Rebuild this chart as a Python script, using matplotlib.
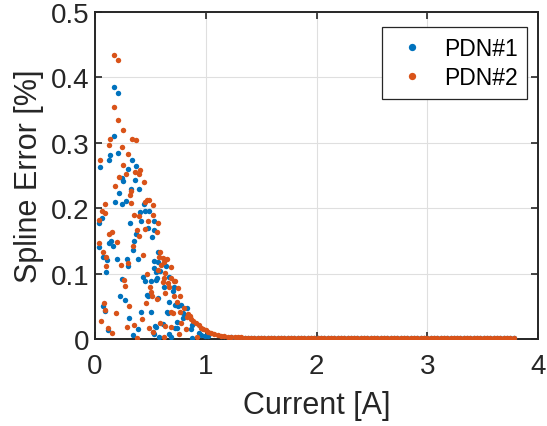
import numpy as np
import matplotlib.pyplot as plt

plt.rcParams['font.family'] = ['Liberation Sans', 'DejaVu Sans']

BLUE = '#0072BD'
ORANGE = '#D95319'
TXT = '#262626'

# PDN#1 scattered points (current [A], spline error [%])
pdn1_current = [
    0.173, 0.212, 0.168, 0.206, 0.137, 0.128, 0.332, 0.371, 0.048, 0.296,
    0.242, 0.257, 0.365, 0.326, 0.400, 0.221, 0.185, 0.281, 0.248, 0.440,
    0.063, 0.033, 0.410, 0.455, 0.490, 0.317, 0.415, 0.535, 0.475, 0.532,
    0.368, 0.514, 0.146, 0.123, 0.159, 0.356, 0.039, 0.341, 0.571, 0.069,
    0.105, 0.200, 0.287, 0.392, 0.302, 0.532, 0.099, 0.547, 0.430, 0.562,
    0.240, 0.450, 0.469, 0.480, 0.227, 0.275, 0.075, 0.093, 0.419, 0.505,
    0.311, 0.388, 0.117, 0.547, 0.347, 0.523, 0.535, 0.571, 0.643, 0.589,
    0.667, 0.508, 0.553, 0.709, 0.625, 0.702, 0.565, 0.664, 0.720, 0.774,
    0.750, 0.828, 0.648, 0.661, 0.792, 0.810, 0.792, 0.541, 0.613, 0.744,
    0.876, 0.864, 0.720, 0.738, 0.935, 0.960, 0.990, 1.020, 0.529, 0.577,
    0.667, 0.684, 0.876,
]
pdn1_error = [
    0.386, 0.376, 0.310, 0.285, 0.281, 0.273, 0.273, 0.265, 0.263, 0.260,
    0.246, 0.241, 0.243, 0.229, 0.229, 0.223, 0.210, 0.211, 0.206, 0.206,
    0.185, 0.178, 0.194, 0.195, 0.195, 0.178, 0.180, 0.180, 0.170, 0.167,
    0.160, 0.156, 0.150, 0.147, 0.142, 0.150, 0.140, 0.136, 0.133, 0.126,
    0.121, 0.122, 0.123, 0.122, 0.111, 0.108, 0.103, 0.102, 0.095, 0.093,
    0.091, 0.089, 0.068, 0.065, 0.065, 0.060, 0.050, 0.043, 0.042, 0.042,
    0.032, 0.016, 0.014, 0.018, 0.006, 0.010, 0.120, 0.117, 0.111, 0.104,
    0.095, 0.089, 0.090, 0.080, 0.079, 0.073, 0.063, 0.057, 0.052, 0.052,
    0.050, 0.047, 0.041, 0.040, 0.039, 0.036, 0.032, 0.020, 0.023, 0.026,
    0.021, 0.016, 0.017, 0.017, 0.009, 0.006, 0.005, 0.004, 0.007, 0.003,
    0.007, 0.003, 0.001,
]

# PDN#2 scattered points
pdn2_current = [
    0.173, 0.212, 0.168, 0.206, 0.251, 0.137, 0.332, 0.371, 0.128, 0.242,
    0.296, 0.048, 0.257, 0.410, 0.365, 0.281, 0.400, 0.221, 0.440, 0.182,
    0.317, 0.323, 0.326, 0.087, 0.455, 0.473, 0.490, 0.526, 0.060, 0.087,
    0.036, 0.356, 0.523, 0.400, 0.480, 0.568, 0.377, 0.448, 0.556, 0.152,
    0.128, 0.395, 0.197, 0.039, 0.347, 0.069, 0.430, 0.099, 0.302, 0.236,
    0.099, 0.568, 0.469, 0.262, 0.275, 0.496, 0.505, 0.517, 0.559, 0.463,
    0.078, 0.311, 0.093, 0.191, 0.425, 0.057, 0.350, 0.290, 0.117, 0.152,
    0.490, 0.383, 0.590, 0.577, 0.613, 0.648, 0.619, 0.600, 0.684, 0.634,
    0.622, 0.684, 0.709, 0.726, 0.613, 0.657, 0.667, 0.750, 0.631, 0.709,
    0.768, 0.738, 0.804, 0.684, 0.702, 0.768, 0.840, 0.858, 0.828, 0.583,
    0.631, 0.780, 0.870, 0.888, 0.912, 0.935, 0.684, 0.822, 0.960, 0.978,
    1.002, 1.020, 1.049, 1.079, 1.109, 1.139, 1.169, 1.199, 0.523, 0.619,
    0.762, 0.918,
]
pdn2_error = [
    0.435, 0.427, 0.354, 0.335, 0.319, 0.306, 0.306, 0.305, 0.296, 0.293,
    0.283, 0.274, 0.266, 0.258, 0.256, 0.252, 0.252, 0.248, 0.240, 0.234,
    0.220, 0.227, 0.208, 0.206, 0.210, 0.212, 0.213, 0.205, 0.196, 0.192,
    0.182, 0.189, 0.190, 0.188, 0.181, 0.177, 0.166, 0.168, 0.163, 0.164,
    0.160, 0.157, 0.148, 0.147, 0.142, 0.133, 0.129, 0.126, 0.116, 0.113,
    0.112, 0.106, 0.100, 0.090, 0.081, 0.080, 0.072, 0.066, 0.061, 0.055,
    0.055, 0.050, 0.044, 0.039, 0.030, 0.028, 0.022, 0.019, 0.017, 0.009,
    0.017, 0.002, 0.133, 0.126, 0.124, 0.122, 0.117, 0.113, 0.110, 0.101,
    0.094, 0.094, 0.089, 0.088, 0.087, 0.085, 0.079, 0.078, 0.071, 0.066,
    0.065, 0.056, 0.048, 0.042, 0.040, 0.041, 0.038, 0.035, 0.033, 0.024,
    0.020, 0.024, 0.031, 0.028, 0.024, 0.021, 0.018, 0.015, 0.017, 0.015,
    0.013, 0.010, 0.009, 0.007, 0.006, 0.005, 0.004, 0.003, 0.010, 0.003,
    0.007, 0.003,
]

# flat tail at high current, shared current values
tail_current = [
    1.23, 1.26, 1.29, 1.32, 1.35, 1.38, 1.41, 1.44, 1.47, 1.50,
    1.53, 1.56, 1.59, 1.62, 1.65, 1.68, 1.71, 1.74, 1.77, 1.80,
    1.83, 1.86, 1.89, 1.92, 1.95, 1.98, 2.01, 2.04, 2.07, 2.10,
    2.13, 2.16, 2.19, 2.22, 2.25, 2.28, 2.31, 2.34, 2.37, 2.40,
    2.43, 2.46, 2.49, 2.52, 2.55, 2.58, 2.61, 2.64, 2.67, 2.70,
    2.73, 2.76, 2.79, 2.82, 2.85, 2.88, 2.91, 2.94, 2.97, 3.00,
    3.03, 3.06, 3.09, 3.12, 3.15, 3.18, 3.21, 3.24, 3.27, 3.30,
    3.33, 3.36, 3.39, 3.42, 3.45, 3.48, 3.51, 3.54, 3.57, 3.60,
    3.63, 3.66, 3.69, 3.72, 3.75, 3.78,
]
tail_error1 = [
    0.0024, 0.0022, 0.0020, 0.0019, 0.0017, 0.0016, 0.0015, 0.0014, 0.0013, 0.0012,
    0.0012, 0.0011, 0.0011, 0.0010, 0.0010, 0.0010, 0.0009, 0.0009, 0.0009, 0.0009,
    0.0008, 0.0009, 0.0008, 0.0008, 0.0008, 0.0008, 0.0009, 0.0008, 0.0008, 0.0008,
    0.0008, 0.0008, 0.0009, 0.0008, 0.0008, 0.0008, 0.0008, 0.0008, 0.0008, 0.0008,
    0.0008, 0.0008, 0.0008, 0.0009, 0.0008, 0.0008, 0.0008, 0.0008, 0.0008, 0.0008,
    0.0008, 0.0008, 0.0008, 0.0008, 0.0008, 0.0009, 0.0008, 0.0008, 0.0008, 0.0008,
    0.0008, 0.0008, 0.0008, 0.0008, 0.0008, 0.0008, 0.0008, 0.0008, 0.0009, 0.0008,
    0.0008, 0.0008, 0.0008, 0.0008, 0.0008, 0.0008, 0.0008, 0.0008, 0.0008, 0.0008,
    0.0008, 0.0008, 0.0008, 0.0008, 0.0008, 0.0008,
]
tail_error2 = [
    0.0030, 0.0027, 0.0025, 0.0023, 0.0021, 0.0020, 0.0018, 0.0017, 0.0016, 0.0015,
    0.0015, 0.0014, 0.0014, 0.0013, 0.0013, 0.0012, 0.0012, 0.0012, 0.0011, 0.0011,
    0.0011, 0.0010, 0.0011, 0.0010, 0.0010, 0.0011, 0.0010, 0.0010, 0.0011, 0.0010,
    0.0010, 0.0010, 0.0011, 0.0010, 0.0010, 0.0010, 0.0011, 0.0010, 0.0010, 0.0010,
    0.0010, 0.0011, 0.0010, 0.0010, 0.0010, 0.0010, 0.0011, 0.0010, 0.0010, 0.0010,
    0.0010, 0.0010, 0.0011, 0.0010, 0.0010, 0.0010, 0.0010, 0.0010, 0.0011, 0.0010,
    0.0010, 0.0010, 0.0010, 0.0011, 0.0010, 0.0010, 0.0010, 0.0010, 0.0010, 0.0011,
    0.0010, 0.0010, 0.0010, 0.0010, 0.0010, 0.0010, 0.0010, 0.0010, 0.0010, 0.0010,
    0.0010, 0.0010, 0.0010, 0.0010, 0.0010, 0.0010,
]

x_ticks = [0, 1, 2, 3, 4]
y_ticks = [0, 0.1, 0.2, 0.3, 0.4, 0.5]

tick_fs = 20
label_fs = 22
legend_fs = 16.5

fig = plt.figure(figsize=(5.47, 4.27), dpi=100)
ax = fig.add_axes([95 / 547, 87 / 427, 443 / 547, 327 / 427])

x1 = np.array(pdn1_current + tail_current)
y1 = np.array(pdn1_error + tail_error1)
x2 = np.array(pdn2_current + tail_current)
y2 = np.array(pdn2_error + tail_error2)

ms = 3.9
ax.plot(x1, y1, 'o', color=BLUE, markersize=ms, markeredgewidth=0,
        label='PDN#1', zorder=3)
ax.plot(x2, y2, 'o', color=ORANGE, markersize=ms, markeredgewidth=0,
        label='PDN#2', zorder=4)

ax.set_xlim(0, 4)
ax.set_ylim(0, 0.5)
ax.set_xticks(x_ticks)
ax.set_xticklabels([str(t) for t in x_ticks])
ax.set_yticks(y_ticks)
ax.set_yticklabels(['0', '0.1', '0.2', '0.3', '0.4', '0.5'])

ax.grid(True, color='#dfdfdf', linewidth=0.8, zorder=0)
ax.set_axisbelow(True)

ax.tick_params(axis='both', which='major', direction='in', length=5,
               width=1.2, labelsize=tick_fs, colors=TXT,
               top=True, right=True, pad=4)
ax.tick_params(axis='x', pad=10)
for side in ['left', 'right', 'top', 'bottom']:
    ax.spines[side].set_linewidth(1.4)
    ax.spines[side].set_color(TXT)

ax.set_xlabel('Current [A]', fontsize=label_fs, color=TXT, labelpad=8)
ax.set_ylabel('Spline Error [%]', fontsize=label_fs, color=TXT, labelpad=5)

leg = ax.legend(loc='upper right', bbox_to_anchor=(0.975, 0.953),
                fontsize=legend_fs, frameon=True, fancybox=False,
                borderpad=0.4, handletextpad=0.5, handlelength=1.8,
                labelspacing=0.3, markerscale=1.35, borderaxespad=0)
leg.get_frame().set_edgecolor(TXT)
leg.get_frame().set_linewidth(0.9)
leg.get_frame().set_alpha(1)

fig.savefig('out.png', dpi=100)
